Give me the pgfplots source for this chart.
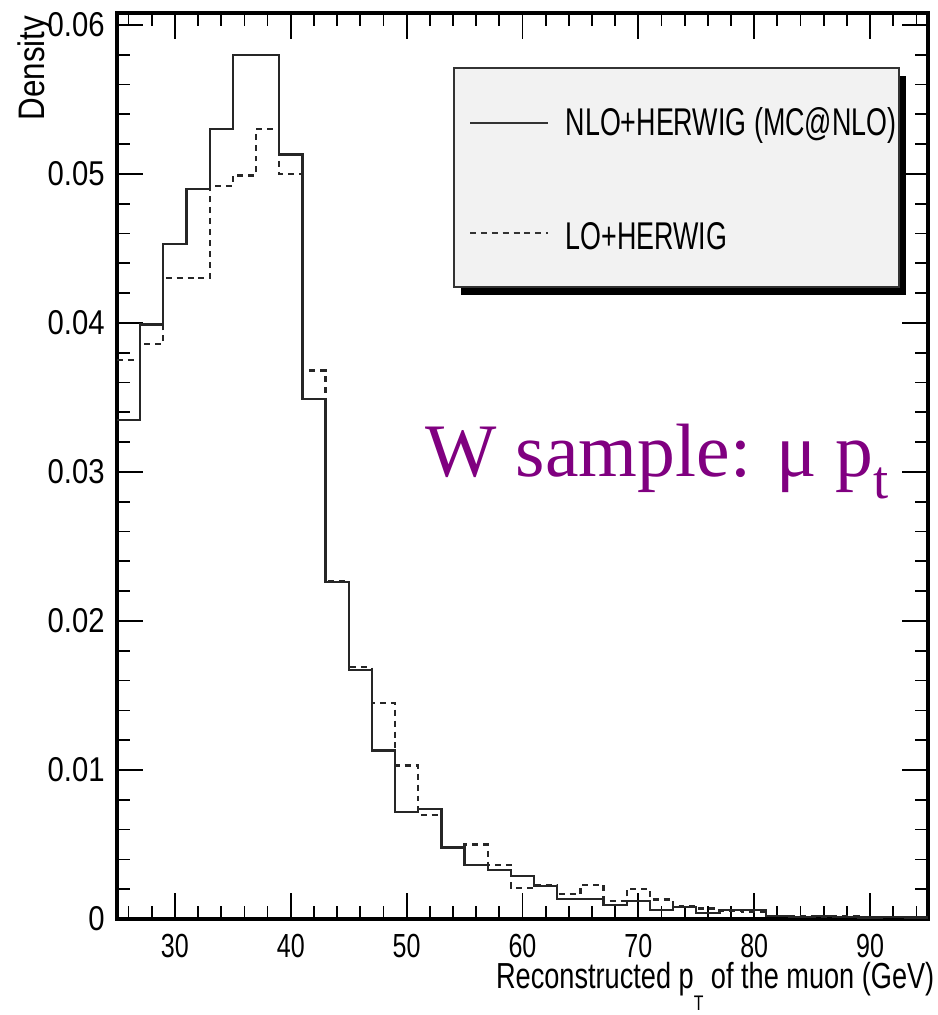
\documentclass[border=0pt]{standalone}
\usepackage{fontspec}
\usepackage{pgfplots}
\pgfplotsset{compat=1.18}
\usepackage{pgfplotstable}
\setmainfont{Liberation Sans}[FakeStretch=0.8]
\newfontfamily\narrowfont{Liberation Sans}[FakeStretch=0.75]
\newfontfamily\legfont{Liberation Sans}[FakeStretch=0.695]
\newfontfamily\ylabfont{Liberation Sans}[FakeStretch=0.85]
\newfontfamily\timesfont{Liberation Serif}
\definecolor{wpurple}{RGB}{128,0,128}
\definecolor{legfill}{RGB}{242,242,242}

% NLO+HERWIG (MC@NLO), left bin edge and density
\pgfplotstableread{
x y
25 0.0335
27 0.0399
29 0.0453
31 0.0490
33 0.0530
35 0.0580
37 0.0580
39 0.0513
41 0.0349
43 0.0226
45 0.0167
47 0.0113
49 0.0072
51 0.0074
53 0.0048
55 0.0036
57 0.0033
59 0.0029
61 0.0022
63 0.00135
65 0.00135
67 0.00095
69 0.0012
71 0.0006
73 0.0008
75 0.0004
77 0.0006
79 0.0006
81 0.0002
83 0.00015
85 0.0002
87 0.00015
89 0.0001
91 0.00015
93 0.0001
95 0.0001
}\nlo

% LO+HERWIG
\pgfplotstableread{
x y
25 0.0375
27 0.0386
29 0.0430
31 0.0430
33 0.0492
35 0.0499
37 0.0530
39 0.0500
41 0.0368
43 0.0227
45 0.0169
47 0.0145
49 0.0103
51 0.0070
53 0.0048
55 0.0050
57 0.0036
59 0.0021
61 0.0023
63 0.0017
65 0.0023
67 0.0012
69 0.0020
71 0.0013
73 0.00084
75 0.0007
77 0.00055
79 0.00045
81 0.0002
83 0.0002
85 0.00015
87 0.0002
89 0.0001
91 0.00015
93 0.0001
95 0.0001
}\lo

\begin{document}
\begin{tikzpicture}
\begin{axis}[
    at={(11.7mm,-91.9mm)}, anchor=south west,
    scale only axis,
    width=81.1mm, height=90.6mm,
    xmin=25, xmax=95,
    ymin=0, ymax=0.0608,
    xtick={30,40,50,60,70,80,90},
    xticklabels={30,40,50,60,70,80,90},
    ytick={0,0.01,0.02,0.03,0.04,0.05,0.06},
    yticklabels={0,0.01,0.02,0.03,0.04,0.05,0.06},
    scaled y ticks=false,
    minor xtick={26,28,...,94},
    minor ytick={0.002,0.004,0.006,0.008,0.012,0.014,0.016,0.018,
                 0.022,0.024,0.026,0.028,0.032,0.034,0.036,0.038,
                 0.042,0.044,0.046,0.048,0.052,0.054,0.056,0.058},
    major tick length=2.6mm, minor tick length=1.3mm,
    tick style={black, line width=0.5pt},
    axis line style={line width=0.9pt},
    yticklabel style={font=\ylabfont\fontsize{9.8}{11}\selectfont},
    xticklabel style={font=\narrowfont\fontsize{9.5}{11}\selectfont, yshift=-0.3mm},
]
\addplot[const plot, black!85, line width=0.65pt] table {\nlo};
\addplot[const plot, black!85, line width=0.65pt, dash pattern=on 1.7pt off 1.4pt] table {\lo};
\end{axis}

\begin{scope}[x=0.1mm, y=-0.1mm]
% legend with ROOT style shadow
\fill[black] (461,76) rectangle (906,295);
\filldraw[fill=legfill, draw=black!80, line width=0.5pt] (454,68) rectangle (899,287);
\draw[black!80, line width=0.65pt] (470,123) -- (548,123);
\draw[black!80, line width=0.65pt, dash pattern=on 1.7pt off 1.4pt] (470,233) -- (548,233);
\node[anchor=west, inner sep=0, font=\legfont\fontsize{11}{13}\selectfont] at (565,125) {NLO+HERWIG (MC@NLO)};
\node[anchor=west, inner sep=0, font=\legfont\fontsize{11}{13}\selectfont] at (565,236) {LO+HERWIG};

\node[anchor=base west, inner sep=0, text=wpurple, font=\timesfont\fontsize{21.5}{24}\selectfont]
    at (425,476) {W sample: μ p\raisebox{-6.5pt}{\fontsize{15.5}{16}\selectfont t}};

\node[anchor=base east, inner sep=0, font=\narrowfont\fontsize{10.3}{12}\selectfont]
    at (935,988) {Reconstructed p\raisebox{-6.5pt}{\fontsize{6}{7}\selectfont T} of the muon (GeV)};
\node[rotate=90, anchor=base east, inner sep=0, font=\ylabfont\fontsize{10.5}{12}\selectfont]
    at (45,15) {Density};

\pgfresetboundingbox
\path (0,0) rectangle (937,1015);
\end{scope}
\end{tikzpicture}
\end{document}
